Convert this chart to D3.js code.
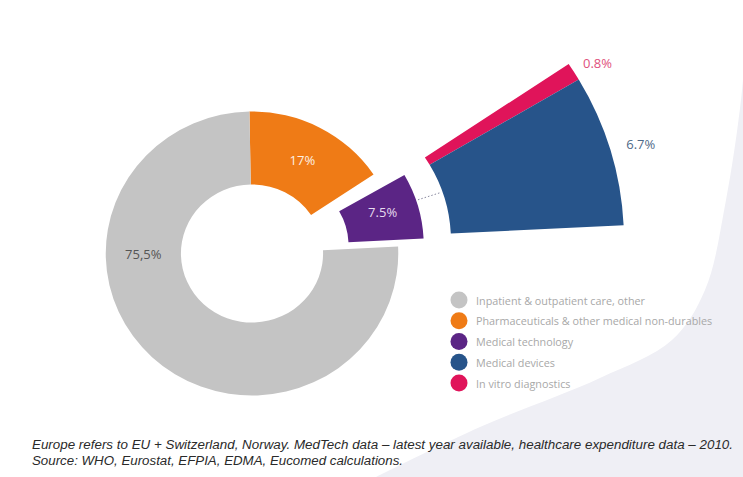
<!DOCTYPE html>
<html><head><meta charset="utf-8">
<script src="https://cdn.jsdelivr.net/npm/d3@7"></script>
<style>body{margin:0;background:#fff}svg{display:block}</style>
</head><body>
<svg id="chart" width="743" height="477"></svg>
<script>
// ---- data ----
const categories = ["Inpatient & outpatient care, other","Pharmaceuticals & other medical non-durables","Medical technology","Medical devices","In vitro diagnostics"];
const mainKeys = ["Pharmaceuticals & other medical non-durables","Medical technology","Inpatient & outpatient care, other"];
const mainShares = [17, 7.5, 75.5];
const mainLabels = ["17%","7.5%","75,5%"];
const medtechKeys = ["In vitro diagnostics","Medical devices"];
const medtechShares = [0.8, 6.7];
const medtechLabels = ["0.8%","6.7%"];
const footnotes = ["Europe refers to EU + Switzerland, Norway. MedTech data \u2013 latest year available, healthcare expenditure data \u2013 2010.","Source: WHO, Eurostat, EFPIA, EDMA, Eucomed calculations."];

// ---- style ----
const color = d3.scaleOrdinal().domain(categories)
  .range(["#c4c4c4","#ef7b16","#5b2585","#27548a","#e0145a"]);
const labelColor = {"Pharmaceuticals & other medical non-durables":"#fdf0e4","Medical technology":"#e6dcef","Inpatient & outpatient care, other":"#555555","Medical devices":"#4f6a88","In vitro diagnostics":"#e0507c"};

const svg = d3.select("#chart");
const W = 743, H = 477;
const cx = 252, cy = 253.5, sx = 1.03;
const rIn = 69, rOut = 142;
const rad = Math.PI / 180;
const rot = -1 * rad;             // pie start angle
const explode = 26;               // purple offset
const wedgeOffset = 45, wIn = 150, wOut = 318;
const gap = 4 * rad;              // visual gap next to exploded slice

// background sweep
const sweep = [[746,40],[741,100],[726,200],[705,290],[672,340],[600,378],[480,427],[372,479]];
const sweepLine = d3.line().curve(d3.curveCatmullRom.alpha(0.5));
svg.append("path")
  .attr("d", sweepLine(sweep) + `L${W+5},${H+5}Z`)
  .attr("fill", "#efeff5");

const g = svg.append("g").attr("transform", `translate(${cx},${cy}) scale(${sx},1)`);
const pt = (a, r, off) => [cx + sx * (Math.sin(a) * r + off[0]), cy - Math.cos(a) * r + off[1]];
const offAt = (a, d) => [Math.sin(a) * d, -Math.cos(a) * d];

const pie = d3.pie().sort(null).value(d => d.v).startAngle(rot).endAngle(rot + 2 * Math.PI);
const arcs = pie(mainKeys.map((k, i) => ({k, v: mainShares[i], label: mainLabels[i]})));
const arc = d3.arc().innerRadius(rIn).outerRadius(rOut);

const tech = arcs.find(a => a.data.k === "Medical technology");
const techMid = (tech.startAngle + tech.endAngle) / 2;
const techDir = techMid - 1.5 * rad;

arcs.forEach(a => {
  let s = a.startAngle, e = a.endAngle, off = [0, 0];
  if (a.data.k === "Medical technology") off = offAt(techDir, explode);
  if (a.data.k === "Pharmaceuticals & other medical non-durables") e -= gap;
  g.append("path")
    .attr("d", arc({startAngle: s, endAngle: e}))
    .attr("transform", `translate(${off[0]},${off[1]})`)
    .attr("fill", color(a.data.k));
});

// breakdown wedge of medical technology (magnified: spans the opened gap too)
const wStart = tech.startAngle - gap, wEnd = tech.endAngle;
const sub = d3.pie().sort(null).value(d => d.v)
  .startAngle(wStart).endAngle(wEnd)
  (medtechKeys.map((k, i) => ({k, v: medtechShares[i], label: medtechLabels[i]})));
const wOff = offAt(techMid, wedgeOffset);
const wArc = d3.arc().innerRadius(wIn).outerRadius(wOut);
sub.forEach(a => {
  g.append("path").attr("d", wArc(a))
    .attr("transform", `translate(${wOff[0]},${wOff[1]})`)
    .attr("fill", color(a.data.k));
});

// dotted connector
const ang = techMid - 2.5 * rad;
const p1 = pt(ang, rOut, offAt(techDir, explode));
const p2 = pt(ang, wIn, wOff);
svg.append("line").attr("x1", p1[0] + 2).attr("y1", p1[1]).attr("x2", p2[0] - 2).attr("y2", p2[1])
  .attr("stroke", "#8a8aa0").attr("stroke-width", 1).attr("stroke-dasharray", "1.5,2");

// labels
const font = "'Open Sans', 'Noto Sans', sans-serif";
arcs.forEach(a => {
  let p;
  const mid = (a.startAngle + a.endAngle) / 2;
  const rm = (rIn + rOut) / 2;
  if (a.data.k === "Inpatient & outpatient care, other") p = pt(1.5 * Math.PI, rm, [0, 0]);
  else if (a.data.k === "Medical technology") p = pt(mid - 2 * rad, rm + 2, offAt(techDir, explode));
  else p = pt(mid - gap / 2, rm, [0, 0]);
  svg.append("text").attr("x", p[0]).attr("y", p[1])
    .attr("text-anchor", "middle").attr("dominant-baseline", "central")
    .attr("font-family", font).attr("font-size", 13)
    .attr("fill", labelColor[a.data.k]).text(a.data.label);
});
sub.forEach(a => {
  let p;
  if (a.data.k === "In vitro diagnostics") p = pt(a.startAngle + 2.5 * rad, wOut + 24, wOff);
  else p = pt((a.startAngle + a.endAngle) / 2 + 0.5 * rad, wOut + 30, wOff);
  svg.append("text").attr("x", p[0]).attr("y", p[1])
    .attr("text-anchor", "middle").attr("dominant-baseline", "central")
    .attr("font-family", font).attr("font-size", 13)
    .attr("fill", labelColor[a.data.k]).text(a.data.label);
});

// legend
const ly = d3.scalePoint().domain(categories).range([300, 383]);
const leg = svg.append("g");
categories.forEach(c => {
  leg.append("circle").attr("cx", 459).attr("cy", ly(c)).attr("r", 8.5).attr("fill", color(c));
  leg.append("text").attr("x", 476).attr("y", ly(c)).attr("dominant-baseline", "central")
    .attr("font-family", font).attr("font-size", 10.8).attr("fill", "#a8a8a8").text(c);
});

// footnotes
const fl = [701, 371];
footnotes.forEach((t, i) => {
  svg.append("text").attr("x", 32).attr("y", 449 + i * 15.5)
    .attr("font-family", "'Liberation Sans', Arial, sans-serif").attr("font-style", "italic")
    .attr("font-size", 12.5).attr("fill", "#2a2a2a")
    .attr("textLength", fl[i]).attr("lengthAdjust", "spacingAndGlyphs").text(t);
});
</script>
</body></html>
